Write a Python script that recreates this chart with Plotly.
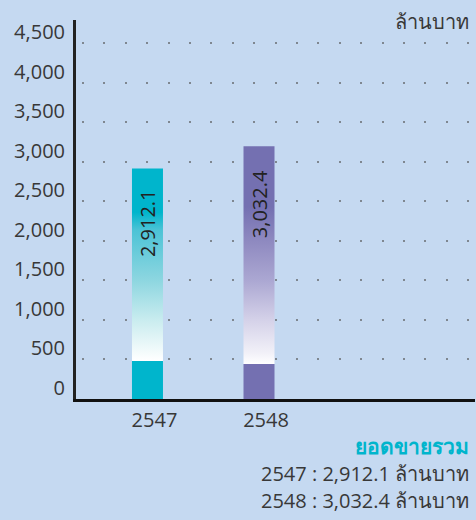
import plotly.graph_objects as go

# ---- data ----
years = ["2547", "2548"]
sales_labels = [2912.1, 3032.4]          # values printed on the chart
bar_heights = [2912.1, 3195.0]            # bar heights as drawn in the picture
y_ticks = [0, 500, 1000, 1500, 2000, 2500, 3000, 3500, 4000, 4500]
unit = "ล้านบาท"
summary_title = "ยอดขายรวม"

# ---- style ----
W, H = 476, 520
ML, MR, MT, MB = 76, 1, 20, 121
BG = "#c5d9f1"
TEAL = "#00b5cc"
PURPLE = "#7470b1"
FONT = "'Open Sans', 'Noto Sans', sans-serif"
TXT = "#383838"
bar_half = 0.139
# colour stops (fraction of bar height) for each bar
scales = [
    [[0, TEAL], [0.165, TEAL], [0.166, "#ffffff"], [0.343, "#c9ecef"],
     [0.516, "#8dd6e0"], [0.733, "#4cc3d6"], [0.81, TEAL], [1, TEAL]],
    [[0, PURPLE], [0.138, PURPLE], [0.139, "#ffffff"], [0.18, "#f2f1f8"],
     [0.31, "#d5d2e9"], [0.47, "#aba7d2"], [0.59, "#9590c4"], [0.76, PURPLE], [1, PURPLE]],
]
label_shift = [-18, -22]

fig = go.Figure()
for i, (yr, h) in enumerate(zip(years, bar_heights)):
    fig.add_trace(go.Scatter(
        x=[i - bar_half, i + bar_half, i + bar_half, i - bar_half, i - bar_half],
        y=[0, 0, h, h, 0],
        mode="lines", line=dict(width=0), fill="toself",
        fillgradient=dict(type="vertical", start=0, stop=h, colorscale=scales[i]),
        hoverinfo="skip", showlegend=False,
    ))
    fig.add_annotation(
        x=i, y=h, xref="x", yref="y", text=f"{sales_labels[i]:,.1f}",
        textangle=-90, showarrow=False, xanchor="center", yanchor="top",
        yshift=label_shift[i], font=dict(family=FONT, size=20, color="#222222"),
    )

def py(pix):
    return (H - MB - pix) / (H - MT - MB)

def px(pix):
    return (pix - ML) / (W - ML - MR)

fig.add_annotation(xref="paper", yref="paper", x=px(471), y=py(22), text=unit,
                   showarrow=False, xanchor="right", yanchor="middle",
                   font=dict(family=FONT, size=20, color=TXT))
fig.add_annotation(xref="paper", yref="paper", x=px(471), y=py(446), text=f"<b>{summary_title}</b>",
                   showarrow=False, xanchor="right", yanchor="middle",
                   font=dict(family=FONT, size=21, color=TEAL))
for k, (yr, v) in enumerate(zip(years, sales_labels)):
    fig.add_annotation(xref="paper", yref="paper", x=px(471), y=py(473 + 27 * k),
                       text=f"{yr} : {v:,.1f} {unit}",
                       showarrow=False, xanchor="right", yanchor="middle",
                       font=dict(family=FONT, size=20, color=TXT))

fig.update_layout(
    width=W, height=H, margin=dict(l=ML, r=MR, t=MT, b=MB),
    paper_bgcolor=BG, plot_bgcolor=BG,
    font=dict(family=FONT, size=20, color=TXT),
    xaxis=dict(range=[-0.641, 2.937], tickvals=list(range(len(years))), ticktext=years,
               showgrid=False, zeroline=False, showline=True, linewidth=3, linecolor="#111111",
               ticks="", ticklabelshift=7, ticklabelstandoff=1,
               tickfont=dict(family=FONT, size=20, color=TXT)),
    yaxis=dict(range=[0, 4790], tickvals=y_ticks, tickformat=",",
               showgrid=True, gridcolor="#7f8790", gridwidth=2, griddash="0px,6px,2px,13.4px",
               zeroline=False, showline=True, linewidth=3, linecolor="#222222",
               ticks="", ticklabelposition="outside top", ticklabelstandoff=4, ticklabelshift=3,
               tickfont=dict(family=FONT, size=20, color=TXT)),
)

fig.write_html(
    "out.html",
    config={"displayModeBar": False},
    post_script="document.body.style.margin='0';document.body.style.background='%s';" % BG,
)
